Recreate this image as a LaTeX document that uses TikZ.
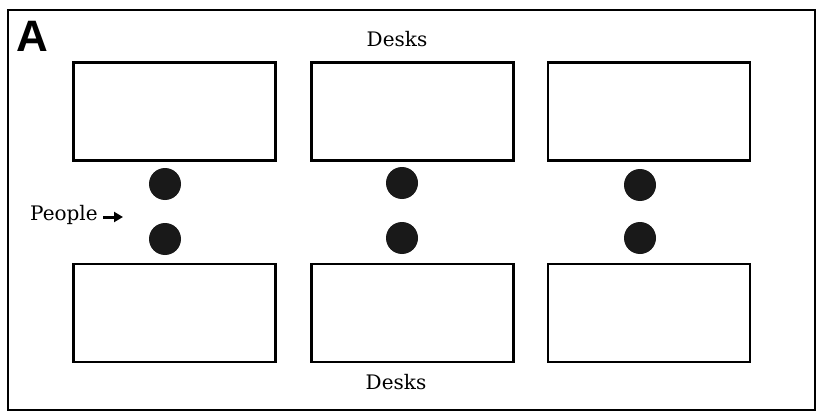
\documentclass[tikz,border=0pt]{standalone}
\usepackage{fontspec}
\setmainfont{DejaVu Serif}
\newfontfamily\labelsans{Liberation Sans}
\usetikzlibrary{arrows.meta}
\begin{document}
\begin{tikzpicture}[x=1pt,y=-1pt,
  desk/.style={draw, line width=2.8pt, minimum width=202pt, minimum height=98pt, inner sep=0pt},
  person/.style={circle, fill=black!90, minimum size=32pt, inner sep=0pt},
  lbl/.style={font=\fontsize{20}{22}\selectfont, inner sep=0pt}]
\useasboundingbox (0,0) rectangle (817,412);
\fill[white] (0,0) rectangle (817,412);
\draw[line width=2.8pt] (8,10) rectangle (815,410);
\node[font=\labelsans\bfseries\fontsize{44}{44}\selectfont, inner sep=0pt] (A) at (32,36) {A};
\node[lbl] (dtop) at (397,39) {Desks};
\node[lbl] (dbot) at (396,382) {Desks};
\node[desk] (t1) at (174.5,111.5) {};
\node[desk] (t2) at (412.5,111.5) {};
\node[desk] (t3) at (649,111.5) {};
\node[desk] (b1) at (174.5,313) {};
\node[desk] (b2) at (412.5,313) {};
\node[desk] (b3) at (649,313) {};
\node[person] (p1) at (165,184) {};
\node[person] (p2) at (402,183) {};
\node[person] (p3) at (640,185) {};
\node[person] (q1) at (165,239) {};
\node[person] (q2) at (402,238) {};
\node[person] (q3) at (640,238) {};
\node[lbl, anchor=west] (people) at (30,215) {People};
\coordinate (ptip) at (123,217);
\coordinate (ptail) at (103,217);
\draw[line width=3pt, -{Triangle[length=9pt,width=10pt]}] (ptail) -- (ptip);
\end{tikzpicture}
\end{document}
